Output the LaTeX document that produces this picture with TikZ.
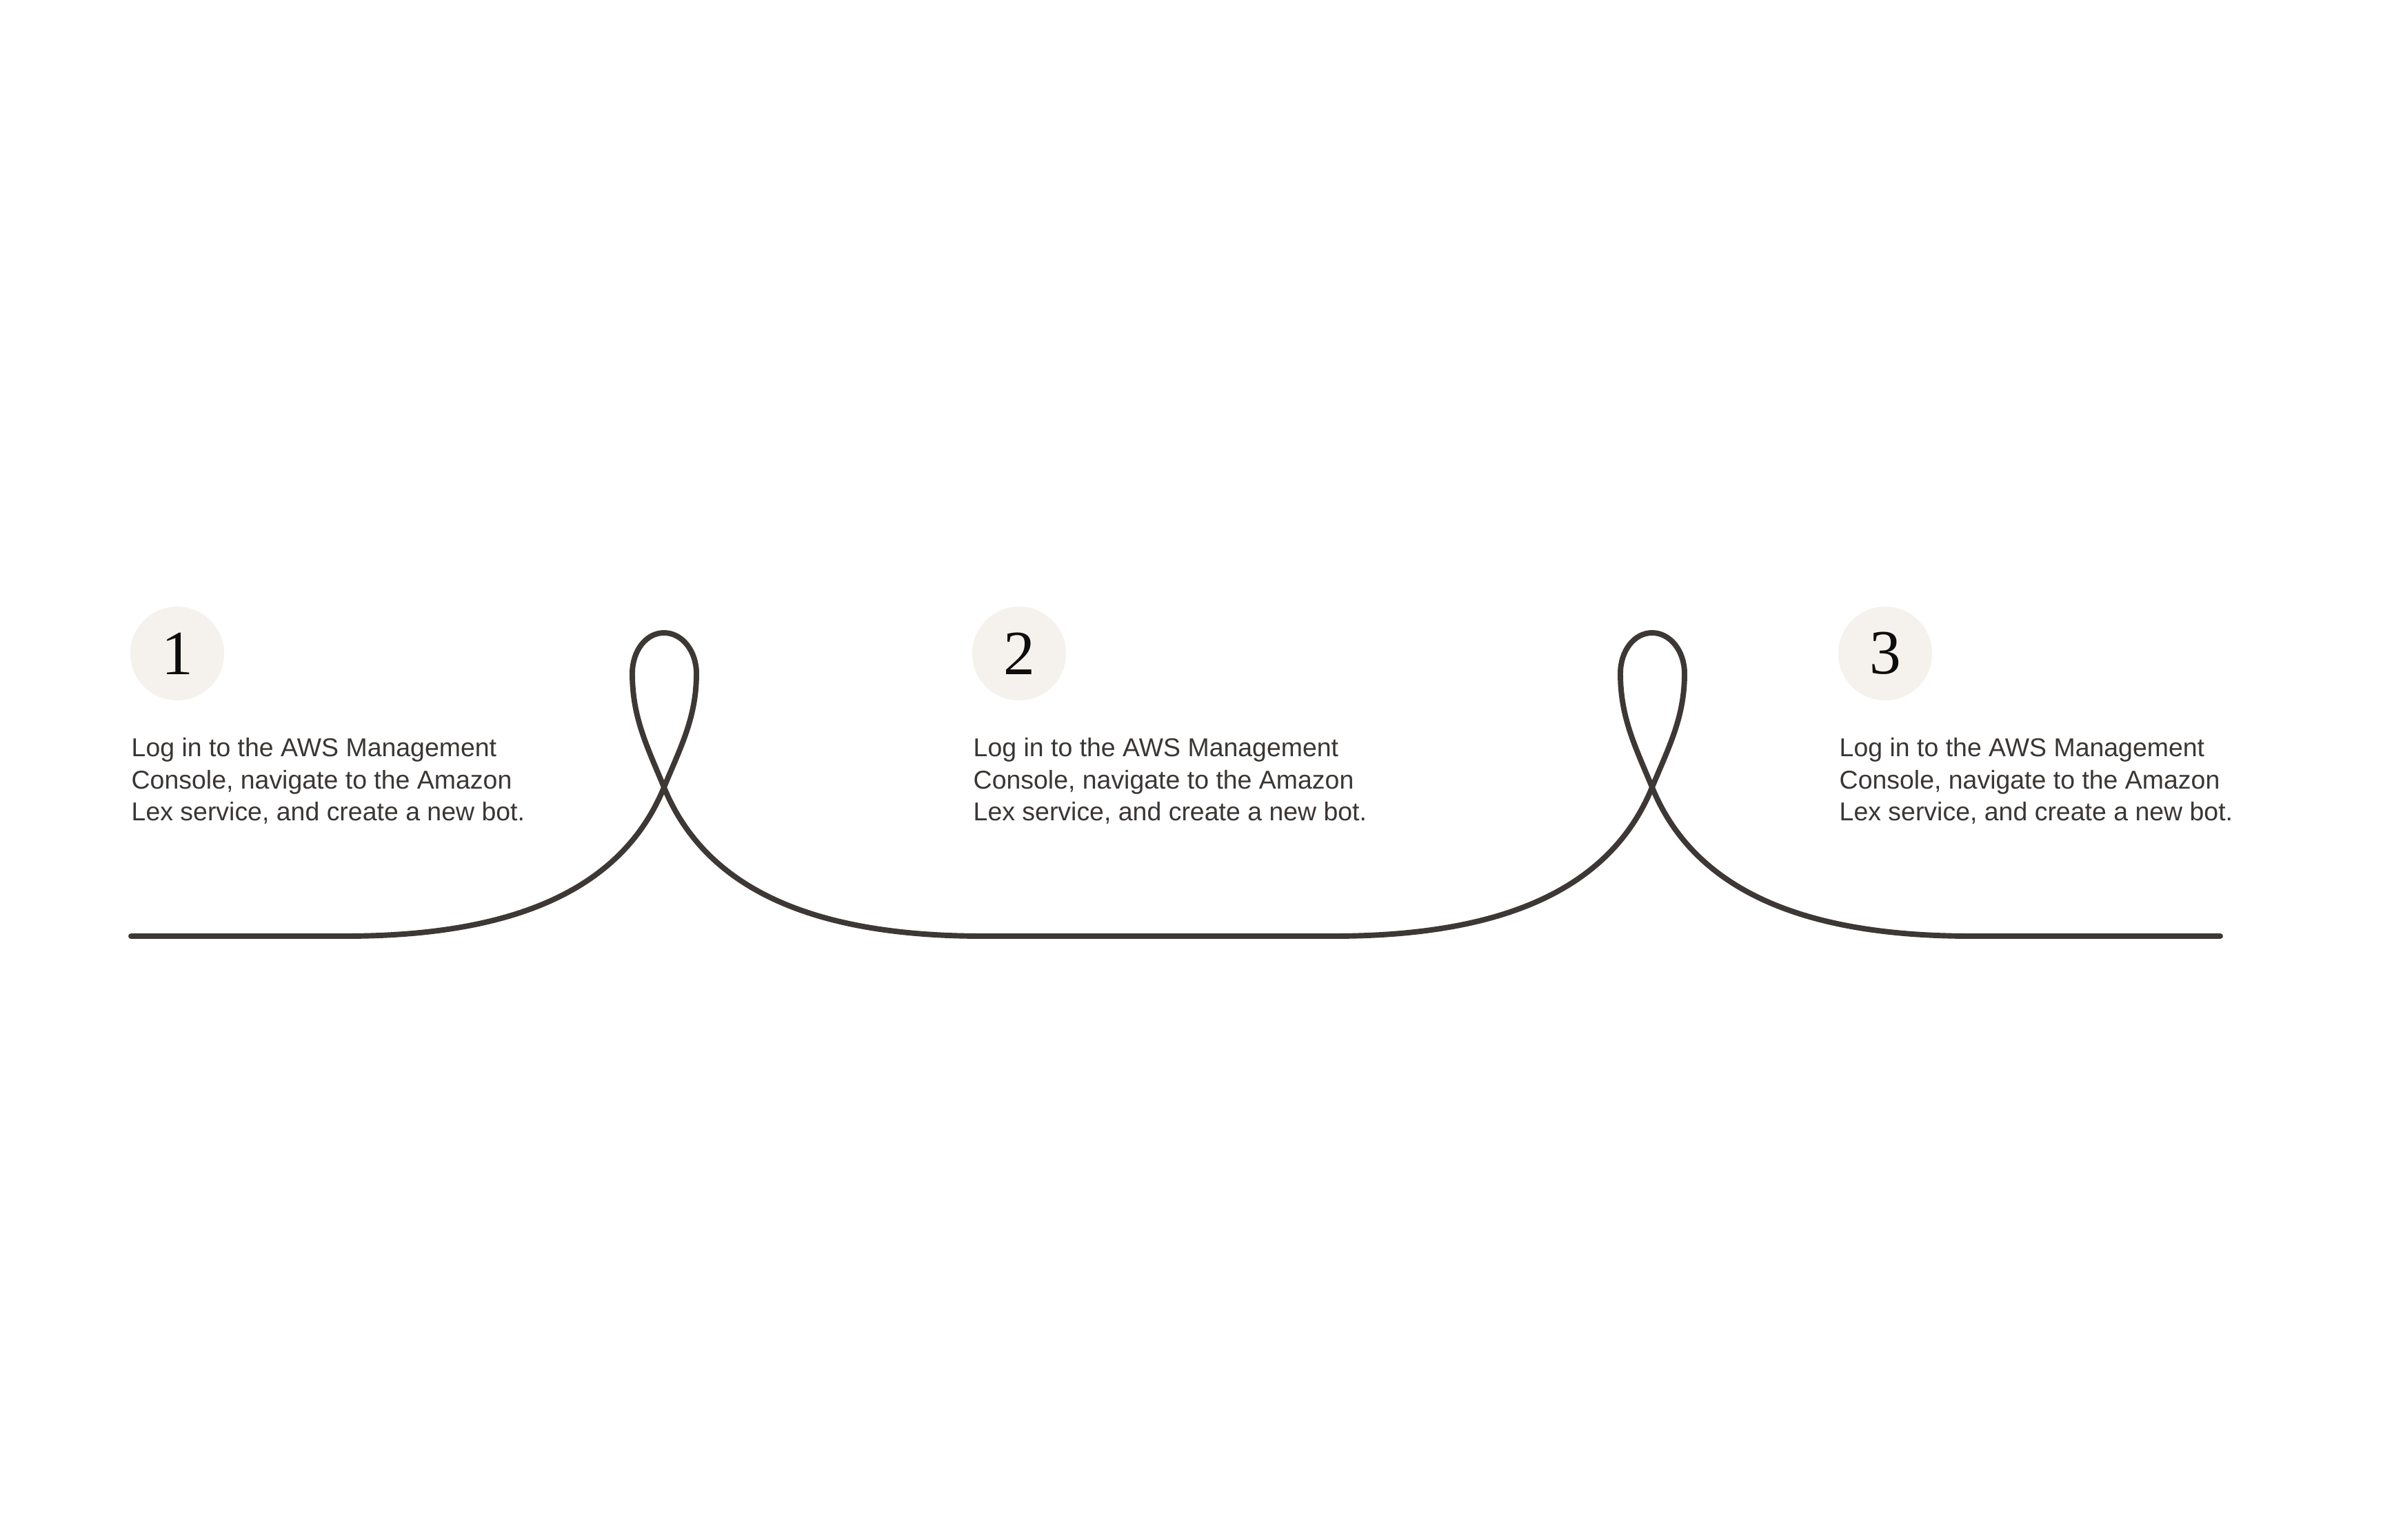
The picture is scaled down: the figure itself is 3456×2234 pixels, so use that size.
\documentclass[tikz,border=0pt]{standalone}
\usepackage{fontspec}
\newfontfamily\bodyfont{Liberation Sans}
\newfontfamily\numfont{Liberation Serif}
\definecolor{ink}{HTML}{3D3836}
\definecolor{txt}{HTML}{3A3634}
\definecolor{disc}{HTML}{F5F2ED}
\begin{document}
\begin{tikzpicture}[x=0.01cm,y=-0.01cm,
  numdisc/.style={circle,fill=disc,minimum size=1.36cm,inner sep=0pt,text=black!95,font=\numfont\fontsize{26}{26}\selectfont},
  stepText/.style={anchor=base west,inner sep=0pt,text=txt,font=\bodyfont\fontsize{10.65}{13.1}\selectfont},
  loopline/.style={draw=ink,line width=2.25pt,line cap=round,line join=round}]
\useasboundingbox[fill=white] (0,0) rectangle (3456,2234);

\node[numdisc] (c1) at (257,948) {1};
\node[numdisc] (c2) at (1478,948) {2};
\node[numdisc] (c3) at (2734,948) {3};

\node[stepText] (t1) at (190,1098) {\vtop{\hbox{Log in to the AWS Management}\hbox{Console, navigate to the Amazon}\hbox{Lex service, and create a new bot.}}};
\node[stepText] (t2) at (1411,1098) {\vtop{\hbox{Log in to the AWS Management}\hbox{Console, navigate to the Amazon}\hbox{Lex service, and create a new bot.}}};
\node[stepText] (t3) at (2667,1098) {\vtop{\hbox{Log in to the AWS Management}\hbox{Console, navigate to the Amazon}\hbox{Lex service, and create a new bot.}}};

\coordinate (start) at (190,1358);
\coordinate (finish) at (3220,1358);
\draw[loopline] (start) -- (500,1358)
  .. controls (700,1358) and (893,1314) .. (963,1142)
  .. controls (988,1082) and (1010,1040) .. (1010,977)
  .. controls (1010,944) and (989,918) .. (963,918)
  .. controls (937,918) and (917,944) .. (917,977)
  .. controls (917,1040) and (938,1082) .. (963,1142)
  .. controls (1033,1314) and (1226,1358) .. (1426,1358)
  -- (1933,1358)
  .. controls (2133,1358) and (2326,1314) .. (2396,1142)
  .. controls (2421,1082) and (2443,1040) .. (2443,977)
  .. controls (2443,944) and (2422,918) .. (2396,918)
  .. controls (2370,918) and (2350,944) .. (2350,977)
  .. controls (2350,1040) and (2371,1082) .. (2396,1142)
  .. controls (2466,1314) and (2659,1358) .. (2859,1358)
  -- (finish);
\end{tikzpicture}
\end{document}
